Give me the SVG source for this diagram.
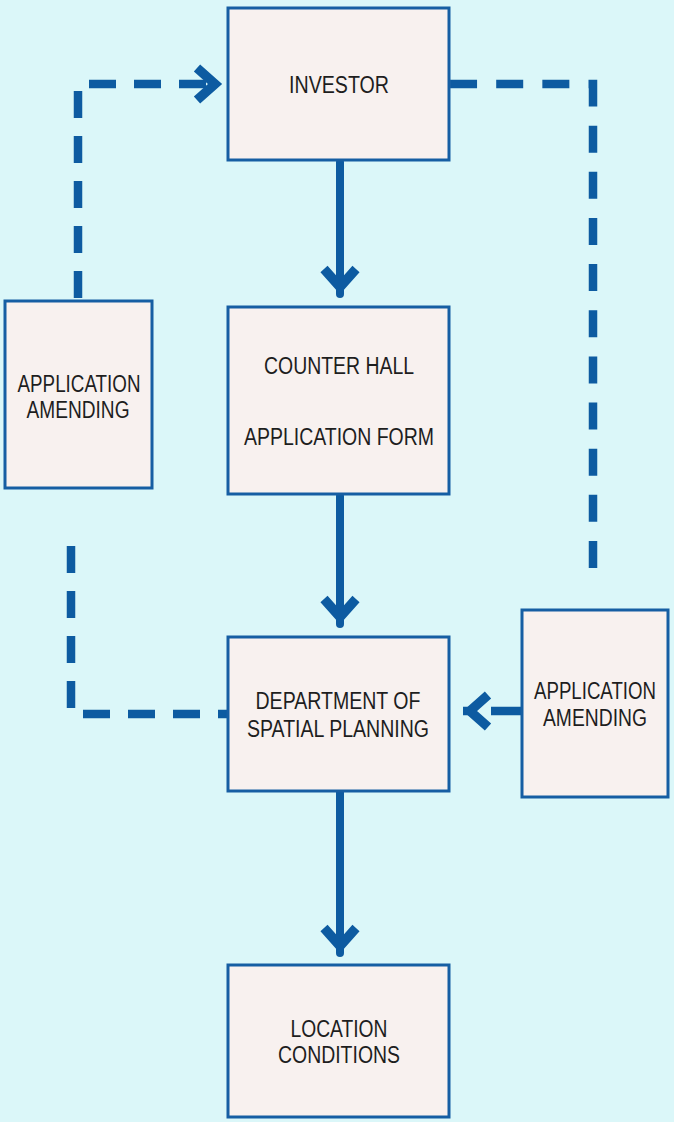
<svg xmlns="http://www.w3.org/2000/svg" width="674" height="1122" viewBox="0 0 674 1122">
  <defs>
    <style>
      .box { fill: #f8f1ef; stroke: #165ea3; stroke-width: 3; }
      .lbl { font-family: "Liberation Sans", Arial, sans-serif; font-size: 23px; fill: #1e1e1e; text-anchor: middle; }
      .solid { fill: none; stroke: #0d5ba1; stroke-width: 8; stroke-linecap: round; }
      .dash { fill: none; stroke: #0d5ba1; stroke-width: 8.5; stroke-dasharray: 27 18; }
    </style>
    <marker id="chev" markerUnits="userSpaceOnUse" markerWidth="44" markerHeight="44" viewBox="-34 -22 44 44" refX="0" refY="0" orient="auto" overflow="visible">
      <path d="M -25,-16 L -7,0 L -25,16" fill="none" stroke="#0d5ba1" stroke-width="9.5" stroke-linejoin="miter"/>
    </marker>
  </defs>

  <rect x="0" y="0" width="674" height="1122" fill="#dbf7f9"/>

  <g id="connectors">
    <path class="solid" d="M 340,162 L 340,294" marker-end="url(#chev)"/>
    <path class="solid" d="M 340,496 L 340,624" marker-end="url(#chev)"/>
    <path class="solid" d="M 340,792 L 340,953" marker-end="url(#chev)"/>
    <path class="dash" d="M 78,298 L 78,84 L 222,84" marker-end="url(#chev)"/>
    <path class="dash" style="stroke-dasharray:27 19.15" d="M 593,568 L 593,84 L 450,84"/>
    <path class="dash" d="M 71,546 L 71,714 L 228,714"/>
    <path class="dash" style="stroke-dasharray:30 18" d="M 521,711 L 463,711" marker-end="url(#chev)"/>
  </g>

  <g id="investor">
    <rect class="box" x="228" y="8" width="221" height="152"/>
    <text class="lbl" x="339" y="93" textLength="100" lengthAdjust="spacingAndGlyphs">INVESTOR</text>
  </g>

  <g id="counter-hall">
    <rect class="box" x="228" y="307" width="221" height="187"/>
    <text class="lbl" x="339" y="374" textLength="150" lengthAdjust="spacingAndGlyphs">COUNTER HALL</text>
    <text class="lbl" x="339" y="445" textLength="190" lengthAdjust="spacingAndGlyphs">APPLICATION FORM</text>
  </g>

  <g id="department">
    <rect class="box" x="228" y="637" width="221" height="154"/>
    <text class="lbl" x="338" y="709" textLength="165" lengthAdjust="spacingAndGlyphs">DEPARTMENT OF</text>
    <text class="lbl" x="338" y="737" textLength="182" lengthAdjust="spacingAndGlyphs">SPATIAL PLANNING</text>
  </g>

  <g id="location">
    <rect class="box" x="228" y="965" width="221" height="152"/>
    <text class="lbl" x="339" y="1037" textLength="97" lengthAdjust="spacingAndGlyphs">LOCATION</text>
    <text class="lbl" x="339" y="1063" textLength="122" lengthAdjust="spacingAndGlyphs">CONDITIONS</text>
  </g>

  <g id="amending-left">
    <rect class="box" x="5" y="301" width="147" height="187"/>
    <text class="lbl" x="79" y="392" textLength="123" lengthAdjust="spacingAndGlyphs">APPLICATION</text>
    <text class="lbl" x="78" y="418" textLength="103" lengthAdjust="spacingAndGlyphs">AMENDING</text>
  </g>

  <g id="amending-right">
    <rect class="box" x="522" y="610" width="146" height="187"/>
    <text class="lbl" x="595" y="699" textLength="122" lengthAdjust="spacingAndGlyphs">APPLICATION</text>
    <text class="lbl" x="595" y="726" textLength="104" lengthAdjust="spacingAndGlyphs">AMENDING</text>
  </g>
</svg>
